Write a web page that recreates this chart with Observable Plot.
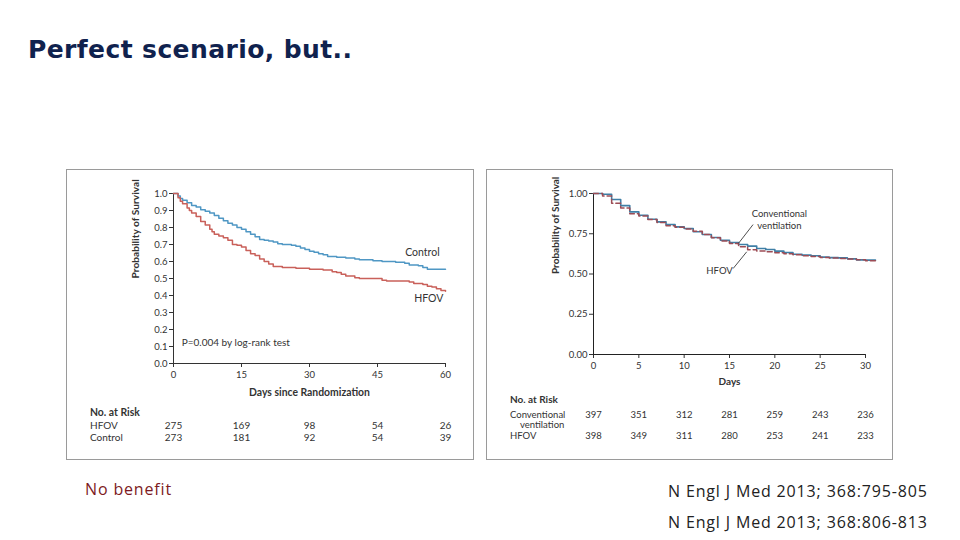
<!DOCTYPE html>
<html><head><meta charset="utf-8">
<script src="https://cdn.jsdelivr.net/npm/d3@7"></script>
<script src="https://cdn.jsdelivr.net/npm/@observablehq/plot@0.6"></script>
<style>
html,body{margin:0;padding:0;background:#fff;}
body{width:960px;height:540px;position:relative;overflow:hidden;font-family:"Open Sans","Noto Sans",sans-serif;}
#title{position:absolute;left:28px;top:37px;font-family:"DejaVu Sans",sans-serif;font-size:25px;line-height:25px;font-weight:700;letter-spacing:0.4px;color:#10224e;white-space:nowrap;}
.box{position:absolute;border:1.5px solid #9a9a9a;box-sizing:border-box;}
.panel{position:absolute;}
.cap{position:absolute;font-size:16px;line-height:16px;letter-spacing:0.85px;white-space:nowrap;}
</style></head>
<body>
<div id="title">Perfect scenario, but..</div>
<div class="box" style="left:66px;top:169px;width:408px;height:291px;"></div>
<div class="box" style="left:486px;top:169px;width:407px;height:291px;"></div>
<div id="p1" class="panel" style="left:66px;top:169px;"></div>
<div id="p2" class="panel" style="left:486px;top:169px;"></div>
<div class="cap" style="left:85px;top:481px;color:#7d1a22;">No benefit</div>
<div class="cap" style="left:668px;top:483px;color:#222;">N Engl J Med 2013; 368:795-805</div>
<div class="cap" style="left:668px;top:514px;color:#222;">N Engl J Med 2013; 368:806-813</div>
<script>
// ---- Left chart (HFOV vs Control, 60 days) ----
const controlDays = [0,1,1.5,2,3,4,5,6,7,8,9,10,11,12,13,14,15,16,17,18,19,20,21,22,23,24,26,27,28,29,30,31,32,33,34,36,38,40,41,44,46,49,51,52,54,55,56,60];
const controlSurv = [1.0,0.985,0.97,0.96,0.945,0.93,0.92,0.905,0.895,0.885,0.87,0.855,0.84,0.825,0.815,0.80,0.79,0.775,0.76,0.745,0.73,0.725,0.72,0.715,0.705,0.70,0.695,0.69,0.68,0.67,0.66,0.655,0.645,0.64,0.63,0.625,0.62,0.615,0.61,0.605,0.60,0.595,0.59,0.58,0.575,0.565,0.555,0.555];
const hfovDays = [0,1,1.5,2,3,3.5,4,5,6,7,8,8.5,9,10,11,12,13,14,15,16,17,18,19,20,21,22,24,27,30,33,35,36,37,38,40,41,46,47,52,53,55,56,57,58,59,60];
const hfovSurv = [1.0,0.975,0.955,0.94,0.915,0.90,0.885,0.865,0.835,0.815,0.79,0.775,0.76,0.75,0.74,0.725,0.70,0.695,0.685,0.665,0.645,0.635,0.615,0.60,0.585,0.57,0.565,0.56,0.555,0.55,0.54,0.535,0.525,0.515,0.505,0.50,0.49,0.485,0.48,0.47,0.465,0.455,0.45,0.44,0.43,0.425];
const leftXTicks = [0,15,30,45,60];
const leftYTicks = [0,0.1,0.2,0.3,0.4,0.5,0.6,0.7,0.8,0.9,1.0];
const leftRiskDays = [0,15,30,45,60];
const leftRiskHfov = [275,169,98,54,26];
const leftRiskControl = [273,181,92,54,39];
const leftLabelText = ["Control","HFOV"];
const leftLabelDay = [54.9,56.3];
const leftLabelSurv = [0.651,0.382];

// ---- Right chart (HFOV vs Conventional ventilation, 30 days) ----
const convDays = [0,1,2,3,4,5,6,7,8,9,10,11,12,13,14,15,16,17,18,19,20,21,22,23,24,25,26,27,28,29,30,31.1];
const convSurv = [1.0,0.995,0.963,0.925,0.886,0.865,0.84,0.824,0.807,0.793,0.783,0.762,0.745,0.727,0.71,0.696,0.683,0.673,0.658,0.652,0.642,0.634,0.623,0.617,0.613,0.605,0.602,0.60,0.594,0.588,0.586,0.586];
const hfov2Days = [0,1,2,3,4,5,6,7,8,9,10,11,12,13,14,15,16,17,18,19,20,21,22,23,24,25,26,27,28,29,30,31.1];
const hfov2Surv = [1.0,0.985,0.94,0.91,0.875,0.86,0.838,0.82,0.80,0.79,0.78,0.765,0.745,0.725,0.705,0.69,0.67,0.65,0.643,0.638,0.632,0.626,0.62,0.614,0.608,0.603,0.60,0.597,0.593,0.588,0.583,0.583];
const rightXTicks = [0,5,10,15,20,25,30];
const rightYTicks = [0,0.25,0.5,0.75,1.0];
const rightRiskDays = [0,5,10,15,20,25,30];
const rightRiskConv = [397,351,312,281,259,243,236];
const rightRiskHfov = [398,349,311,280,253,241,233];
const rightLabelText = ["Conventional\nventilation","HFOV"];
const rightLabelDay = [20.5,13.9];
const rightLabelSurv = [0.84,0.522];
const leaderX1 = [17.6,15.4];
const leaderY1 = [0.807,0.534];
const leaderX2 = [16.0,16.9];
const leaderY2 = [0.691,0.638];

const font = 'Lato, "Open Sans", sans-serif';
const ink = "#333";
const zip = (xs, ys) => xs.map((d, i) => ({day: d, surv: ys[i]}));

// Left plot
const leftPlot = Plot.plot({
  width: 408, height: 290,
  marginLeft: 107, marginRight: 29, marginTop: 24, marginBottom: 96,
  style: {fontFamily: font, fontSize: "9.5px", color: ink, background: "transparent", overflow: "visible"},
  x: {domain: [0,60], ticks: leftXTicks, tickSize: 4, tickPadding: 4, label: null},
  y: {domain: [0,1], ticks: leftYTicks, tickFormat: ".1f", tickSize: 4, tickPadding: 2, label: null},
  marks: [
    Plot.ruleX([0], {y1: 0, y2: 1, stroke: ink, strokeWidth: 1}),
    Plot.ruleY([0], {x1: 0, x2: 60, stroke: ink, strokeWidth: 1}),
    Plot.line(zip(controlDays, controlSurv), {x: "day", y: "surv", curve: "step-after", stroke: "#4f97c4", strokeWidth: 1.5}),
    Plot.line(zip(hfovDays, hfovSurv), {x: "day", y: "surv", curve: "step-after", stroke: "#c9605a", strokeWidth: 1.5}),
    Plot.text(leftLabelText, {x: (d, i) => leftLabelDay[i], y: (d, i) => leftLabelSurv[i], text: d => d, fontSize: 10.5, fill: ink}),
    Plot.text(["P=0.004 by log-rank test"], {x: 1.8, y: 0.12, text: d => d, textAnchor: "start", fontSize: 10, fill: ink}),
    Plot.text(["Probability of Survival"], {frameAnchor: "left", rotate: -90, dx: -38, text: d => d, fontWeight: 700, fontSize: 10.2, fill: ink}),
    Plot.text(["Days since Randomization"], {frameAnchor: "bottom", dy: 32, text: d => d, fontWeight: 700, fontSize: 10.4, fill: ink}),
    Plot.text(["No. at Risk"], {frameAnchor: "bottom-left", dx: -83.5, dy: 52, textAnchor: "start", text: d => d, fontWeight: 700, fontSize: 10.4, fill: ink}),
    Plot.text(["HFOV"], {frameAnchor: "bottom-left", dx: -83.5, dy: 65.5, textAnchor: "start", text: d => d, fontSize: 10, fill: ink}),
    Plot.text(["Control"], {frameAnchor: "bottom-left", dx: -83.5, dy: 77, textAnchor: "start", text: d => d, fontSize: 10, fill: ink}),
    Plot.text(leftRiskHfov, {x: (d, i) => leftRiskDays[i], frameAnchor: "bottom", dy: 65.5, text: d => String(d), fontSize: 10, fill: ink}),
    Plot.text(leftRiskControl, {x: (d, i) => leftRiskDays[i], frameAnchor: "bottom", dy: 77, text: d => String(d), fontSize: 10, fill: ink})
  ]
});
document.getElementById("p1").append(leftPlot);

// Right plot
const rightPlot = Plot.plot({
  width: 407, height: 290,
  marginLeft: 107, marginRight: 28, marginTop: 24, marginBottom: 105,
  style: {fontFamily: font, fontSize: "9.5px", color: ink, background: "transparent", overflow: "visible"},
  x: {domain: [0,30], ticks: rightXTicks, tickSize: 4, tickPadding: 4, label: null},
  y: {domain: [0,1], ticks: rightYTicks, tickFormat: ".2f", tickSize: 4, tickPadding: 2, label: null},
  marks: [
    Plot.ruleX([0], {y1: 0, y2: 1, stroke: "#222", strokeWidth: 1}),
    Plot.ruleY([0], {x1: 0, x2: 30, stroke: "#222", strokeWidth: 1}),
    Plot.line(zip(convDays, convSurv), {x: "day", y: "surv", curve: "step-after", stroke: "#3f7fa6", strokeWidth: 1.6}),
    Plot.line(zip(hfov2Days, hfov2Surv), {x: "day", y: "surv", curve: "step-after", stroke: "#9c4c55", strokeWidth: 1.5, strokeDasharray: "5,3"}),
    Plot.link(leaderX1, {x1: d => d, y1: (d, i) => leaderY1[i], x2: (d, i) => leaderX2[i], y2: (d, i) => leaderY2[i], stroke: "#222", strokeWidth: 0.8}),
    Plot.text(rightLabelText, {x: (d, i) => rightLabelDay[i], y: (d, i) => rightLabelSurv[i], text: d => d, fontSize: 9.5, lineHeight: 1.2, fill: ink}),
    Plot.text(["Probability of Survival"], {frameAnchor: "left", rotate: -90, dx: -37.5, text: d => d, fontWeight: 700, fontSize: 10, fill: ink}),
    Plot.text(["Days"], {frameAnchor: "bottom", dy: 30.5, text: d => d, fontWeight: 700, fontSize: 10, fill: ink}),
    Plot.text(["No. at Risk"], {frameAnchor: "bottom-left", dx: -83.5, dy: 48.5, textAnchor: "start", text: d => d, fontWeight: 700, fontSize: 10, fill: ink}),
    Plot.text(["Conventional"], {frameAnchor: "bottom-left", dx: -83.5, dy: 63, textAnchor: "start", text: d => d, fontSize: 9.5, fill: ink}),
    Plot.text(["ventilation"], {frameAnchor: "bottom-left", dx: -73.5, dy: 73.5, textAnchor: "start", text: d => d, fontSize: 9.5, fill: ink}),
    Plot.text(["HFOV"], {frameAnchor: "bottom-left", dx: -83.5, dy: 84.5, textAnchor: "start", text: d => d, fontSize: 9.5, fill: ink}),
    Plot.text(rightRiskConv, {x: (d, i) => rightRiskDays[i], frameAnchor: "bottom", dy: 63, text: d => String(d), fontSize: 9.5, fill: ink}),
    Plot.text(rightRiskHfov, {x: (d, i) => rightRiskDays[i], frameAnchor: "bottom", dy: 84.5, text: d => String(d), fontSize: 9.5, fill: ink})
  ]
});
document.getElementById("p2").append(rightPlot);
</script>
</body></html>
